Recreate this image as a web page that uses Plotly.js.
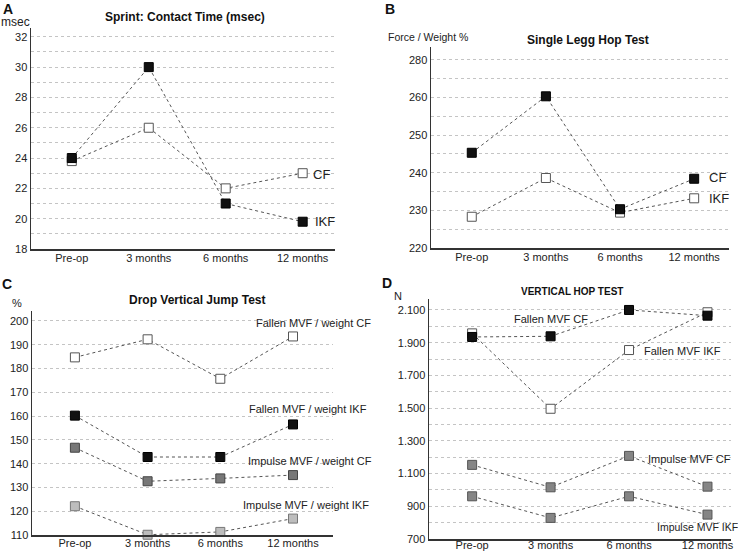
<!DOCTYPE html>
<html>
<head>
<meta charset="utf-8">
<script src="https://cdn.plot.ly/plotly-3.0.1.min.js"></script>
<style>html,body{margin:0;padding:0;background:#fff;}#chart{width:738px;height:552px;}</style>
</head>
<body>
<div id="chart"></div>
<script>
// ---- data ----
const categories = ['Pre-op', '3 months', '6 months', '12 months'];

// A: Sprint contact time (msec)
const sprintIKF = [24.0, 30.0, 21.0, 19.8];
const sprintCF = [23.8, 26.0, 22.0, 23.0];

// B: Single legg hop test (force / weight %)
const hopCF = [245.3, 260.3, 230.3, 238.4];
const hopIKF = [228.3, 238.6, 229.4, 233.2];
const hopTickVals = [220, 230, 240, 250, 260, 270];
const hopTickText = ['220', '230', '240', '250', '260', '280'];

// C: Drop vertical jump test (%)
const dvjFallenCF = [184.7, 192.3, 175.7, 193.5];
const dvjFallenIKF = [160.2, 142.8, 142.8, 156.5];
const dvjImpulseCF = [146.7, 132.6, 133.8, 135.2];
const dvjImpulseIKF = [122.1, 110.1, 111.3, 116.9];

// D: Vertical hop test (N)
const vhFallenCF = [1935, 1939, 2100, 2065];
const vhFallenIKF = [1957, 1496, 1855, 2086];
const vhImpulseCF = [1153, 1016, 1208, 1020];
const vhImpulseIKF = [961, 829, 961, 849];

// ---- layout helpers ----
const W = 738, H = 552;
const px = x => x / W;
const py = y => 1 - y / H;
const FONT = 'Liberation Sans, Arial, Helvetica, sans-serif';
const GRID = '#c4c4c4';

function line(x, y, xa, ya, fill, edge) {
  return {
    type: 'scatter', mode: 'lines+markers', x: x, y: y, xaxis: xa, yaxis: ya,
    line: {color: '#555', width: 1, dash: 'dot'},
    marker: {symbol: 'square', size: 9, color: fill, line: {color: edge, width: 1}},
    hoverinfo: 'x+y', cliponaxis: false
  };
}

const traces = [
  line(categories, sprintCF, 'x', 'y', '#ffffff', '#555'),
  line(categories, sprintIKF, 'x', 'y', '#111111', '#000'),
  line(categories, hopIKF, 'x2', 'y2', '#ffffff', '#555'),
  line(categories, hopCF, 'x2', 'y2', '#111111', '#000'),
  line(categories, dvjFallenCF, 'x3', 'y3', '#ffffff', '#555'),
  line(categories, dvjFallenIKF, 'x3', 'y3', '#111111', '#000'),
  line(categories, dvjImpulseCF, 'x3', 'y3', '#777777', '#444'),
  line(categories, dvjImpulseIKF, 'x3', 'y3', '#bdbdbd', '#777'),
  line(categories, vhFallenIKF, 'x4', 'y4', '#ffffff', '#555'),
  line(categories, vhFallenCF, 'x4', 'y4', '#111111', '#000'),
  line(categories, vhImpulseCF, 'x4', 'y4', '#858585', '#555'),
  line(categories, vhImpulseIKF, 'x4', 'y4', '#858585', '#555')
];

function xaxis(x0, x1, anchor, r, standoff) {
  return {
    domain: [px(x0), px(x1)], anchor: anchor, type: 'category', range: r,
    showgrid: false, zeroline: false, showline: true, linecolor: '#333', linewidth: 1.5,
    ticks: '', ticklabelstandoff: standoff, tickfont: {family: FONT, size: 11, color: '#222'}, fixedrange: true
  };
}
function yaxis(yBottom, yTop, anchor, r, extra) {
  return Object.assign({
    domain: [py(yBottom), py(yTop)], anchor: anchor, range: r, zeroline: false,
    showline: true, linecolor: '#333', linewidth: 1.5,
    showgrid: true, gridcolor: GRID, griddash: 'dot', gridwidth: 1,
    ticks: '', tickfont: {family: FONT, size: 11, color: '#222'}, fixedrange: true
  }, extra);
}
const minorGrid = d => ({dtick: d, showgrid: true, gridcolor: GRID, griddash: 'dot', ticks: ''});

const layout = {
  width: W, height: H, margin: {l: 0, r: 0, t: 0, b: 0},
  paper_bgcolor: '#fff', plot_bgcolor: 'rgba(0,0,0,0)',
  showlegend: false, separators: ',.',
  font: {family: FONT, color: '#222'},
  xaxis: xaxis(31, 335, 'y', [-0.53, 3.42], -2),
  yaxis: yaxis(249, 28, 'x', [18, 32.58], {dtick: 2, tick0: 18, minor: minorGrid(1)}),
  xaxis2: xaxis(431, 729, 'y2', [-0.55, 3.47], -2),
  yaxis2: yaxis(248, 47, 'x2', [220, 273.4], {tickmode: 'array', tickvals: hopTickVals, ticktext: hopTickText,
    minor: Object.assign(minorGrid(5), {tickmode: 'linear', tick0: 220})}),
  xaxis3: xaxis(32, 333, 'y3', [-0.59, 3.55], -3),
  yaxis3: yaxis(535, 311, 'x3', [110, 204.2], {dtick: 10, tick0: 110}),
  xaxis4: xaxis(429, 731, 'y4', [-0.55, 3.3], -5),
  yaxis4: yaxis(539, 299, 'x4', [700, 2167], {dtick: 200, tick0: 700, tickformat: ',d', minor: minorGrid(100)}),
  annotations: []
};

function ann(text, x, y, size, bold, xanchor) {
  layout.annotations.push({
    text: bold ? '<b>' + text + '</b>' : text, xref: 'paper', yref: 'paper',
    x: px(x), y: py(y), xanchor: xanchor || 'center', yanchor: 'middle', showarrow: false,
    font: {family: FONT, size: size, color: bold ? '#111' : '#222'}
  });
}

// panel letters
ann('A', 8, 9, 14, true);
ann('B', 390, 9, 14, true);
ann('C', 7, 284, 14, true);
ann('D', 387, 283, 14, true);

// titles
ann('Sprint: Contact Time (msec)', 185, 17, 12, true);
ann('Single Legg Hop Test', 588, 40, 12, true);
ann('Drop Vertical Jump Test', 197, 300, 12, true);
ann('VERTICAL HOP TEST', 572, 291, 10, true);

// unit labels
ann('msec', 15, 22, 12, false);
ann('Force / Weight %', 428, 37, 10.5, false);
ann('%', 17, 303, 11, false);
ann('N', 398, 296, 11, false);

// series labels
ann('CF', 321, 174, 13, false);
ann('IKF', 325, 221, 13, false);
ann('CF', 717, 177, 13, false);
ann('IKF', 719, 199, 13, false);
ann('Fallen MVF / weight CF', 313, 323, 11, false);
ann('Fallen MVF / weight IKF', 308, 409, 11, false);
ann('Impulse MVF / weight CF', 310, 461, 11, false);
ann('Impulse MVF / weight IKF', 306, 505, 11, false);
ann('Fallen MVF CF', 551, 319, 11, false);
ann('Fallen MVF IKF', 682, 351, 11, false);
ann('Impulse MVF CF', 689, 459, 11, false);
ann('Impulse MVF IKF', 697, 527, 10.5, false);

Plotly.newPlot('chart', traces, layout, {displayModeBar: false, staticPlot: true});
</script>
</body>
</html>
